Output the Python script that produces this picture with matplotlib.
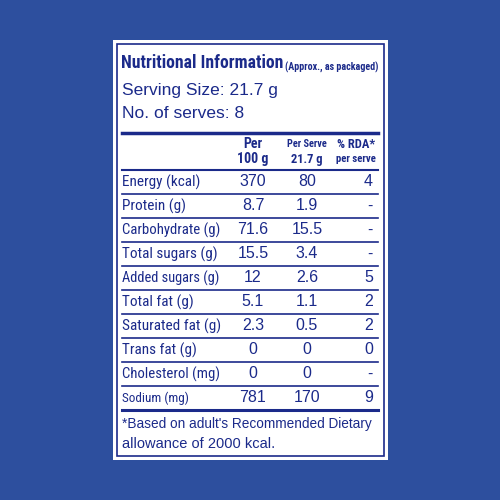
import matplotlib.pyplot as plt
from matplotlib import font_manager
from matplotlib.patches import Rectangle

NAVY = "#1b2a8a"
BG = "#2d4f9e"

installed = {f.name for f in font_manager.fontManager.ttflist}
NARROW = [n for n in ["Liberation Sans Narrow", "DejaVu Sans Condensed", "Roboto Condensed"]
          if n in installed][:1] + ["DejaVu Sans"]
SANS = ["Liberation Sans", "DejaVu Sans"]

nutrients = ["Energy (kcal)", "Protein (g)", "Carbohydrate (g)", "Total sugars (g)",
             "Added sugars (g)", "Total fat (g)", "Saturated fat (g)", "Trans fat (g)",
             "Cholesterol (mg)", "Sodium (mg)"]
per_100g = ["370", "8.7", "71.6", "15.5", "12", "5.1", "2.3", "0", "0", "781"]
per_serve = ["80", "1.9", "15.5", "3.4", "2.6", "1.1", "0.5", "0", "0", "170"]
rda = ["4", "-", "-", "-", "5", "2", "2", "0", "-", "9"]

fig = plt.figure(figsize=(5, 5), dpi=100)
fig.patch.set_facecolor(BG)
ax = fig.add_axes([0, 0, 1, 1])
ax.set_xlim(0, 500)
ax.set_ylim(500, 0)
ax.axis("off")
renderer = fig.canvas.get_renderer()


def fit_text(x, y, s, width, size, **kw):
    """Draw text and shrink it until it is at most `width` pixels wide."""
    t = ax.text(x, y, s, fontsize=size, color=NAVY, va="center", **kw)
    w = t.get_window_extent(renderer).width
    if w > width:
        t.set_fontsize(size * width / w)
    return t


ax.add_patch(Rectangle((113, 40), 275, 420, facecolor="white", edgecolor="none"))
ax.add_patch(Rectangle((117, 44), 267, 412, facecolor="none", edgecolor=NAVY, lw=1.2))

fit_text(121, 63, "Nutritional Information", 162, 19, family=NARROW, weight="bold")
fit_text(378, 67, "(Approx., as packaged)", 93, 8.5, family=NARROW, weight="bold", ha="right")
ax.text(122, 91, "Serving Size: 21.7 g", family=SANS, fontsize=12.5, color=NAVY, va="center")
ax.text(122, 114, "No. of serves: 8", family=SANS, fontsize=12.5, color=NAVY, va="center")

ax.plot([122, 378], [133, 133], color=NAVY, lw=2.5)
for x, top, bot, w in [(253, "Per", "100 g", 32), (307, "Per Serve", "21.7 g", 40),
                       (356, "% RDA*", "per serve", 40)]:
    fit_text(x, 144, top, w, 10 if x < 300 else 9, family=NARROW, weight="bold", ha="center")
    fit_text(x, 159, bot, w, 10 if x < 300 else 9, family=NARROW, weight="bold", ha="center")
ax.plot([122, 378], [170, 170], color=NAVY, lw=1.5)

y0, dy = 182, 24
for i, name in enumerate(nutrients):
    y = y0 + i * dy
    fit_text(122, y, name, 6.1 * len(name), 11, family=NARROW)
    ax.text(253, y, per_100g[i], family=SANS, fontsize=11.5, color=NAVY, va="center", ha="center")
    ax.text(307, y, per_serve[i], family=SANS, fontsize=11.5, color=NAVY, va="center", ha="center")
    ax.text(373, y, rda[i], family=SANS, fontsize=11.5, color=NAVY, va="center", ha="right")
    ax.plot([122, 378], [y + 12, y + 12], color=NAVY, lw=2.2 if i == len(nutrients) - 1 else 1.2)

fit_text(122, 424, "*Based on adult's Recommended Dietary", 250, 10.5, family=SANS)
fit_text(122, 444, "allowance of 2000 kcal.", 250, 10.5, family=SANS)

fig.savefig("out.png", dpi=100, facecolor=BG)
